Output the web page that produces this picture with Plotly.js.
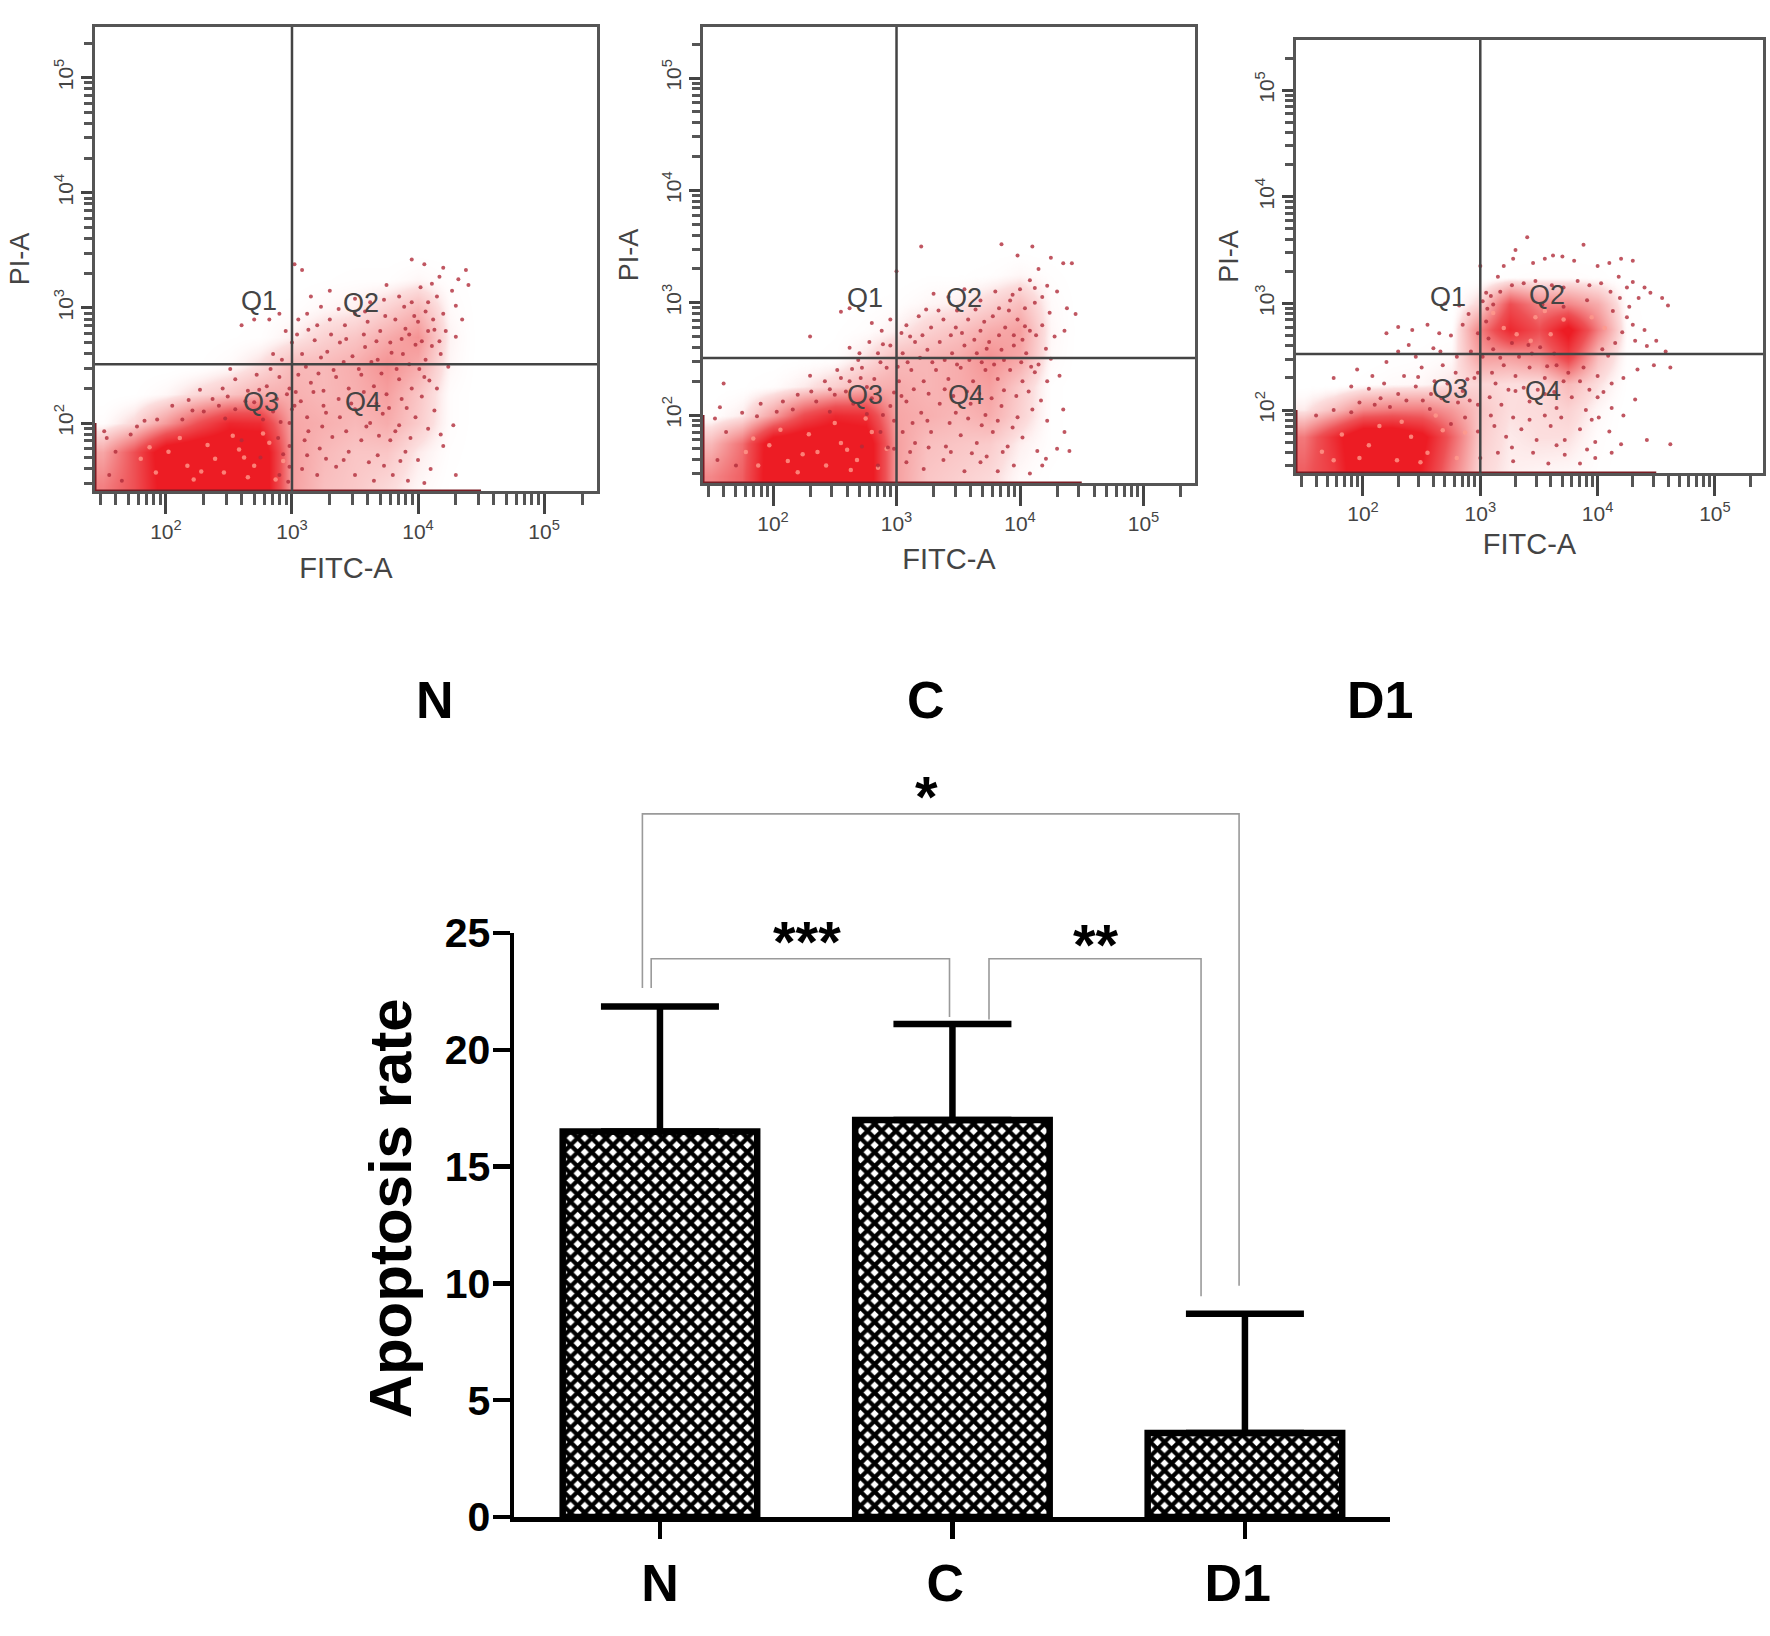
<!DOCTYPE html>
<html><head><meta charset="utf-8">
<script src="https://cdn.plot.ly/plotly-3.0.1.min.js"></script>
<style>html,body{margin:0;padding:0;background:#fff}</style></head>
<body><div id="chart" style="width:1770px;height:1636px"></div>
<script>
// ---------- bar chart values ----------
const groups = ['N','C','D1'];
const groupPos = [0,1,2];
const apoptosisRate = [16.5,17.0,3.6];
const apoptosisErr = [5.35,4.1,5.1];
const bracketAllX = [-0.06,-0.06,1.98,1.98];
const bracketAllY = [22.65,30.1,30.1,9.9];
const bracketNCX = [-0.03,-0.03,0.99,0.99];
const bracketNCY = [22.65,23.9,23.9,21.4];
const bracketCDX = [1.125,1.125,1.85,1.85];
const bracketCDY = [21.3,23.9,23.9,9.45];

// ---------- flow panels: density (log10 FITC columns, log10 PI rows) ----------
const gridX = [1.5,1.75,2,2.25,2.5,2.75,3,3.25,3.5,3.75,4,4.25,4.5];
const gridY = [1.45,1.75,2,2.25,2.5,2.75,3,3.25,3.5];
const densityN = [
 [.4,.55,.9,1,1,1,.3,.2,.17,.12,.05,.01,0],
 [.28,.55,.95,1,1,1,.3,.22,.18,.18,.08,.02,0],
 [.03,.12,.32,.55,.75,.72,.28,.25,.22,.26,.16,.03,0],
 [0,.01,.05,.12,.18,.25,.25,.22,.25,.3,.18,.03,0],
 [0,0,0,.01,.04,.11,.22,.22,.26,.35,.26,.05,0],
 [0,0,0,0,.01,.02,.07,.14,.18,.26,.34,.06,0],
 [0,0,0,0,0,.01,.02,.05,.07,.14,.22,.04,0],
 [0,0,0,0,0,0,0,.01,.02,.02,.05,.02,0],
 [0,0,0,0,0,0,0,0,0,0,0,0,0]];
const densityC = [
 [.38,.5,.95,1,1,.95,.3,.18,.15,.12,.04,.01,0],
 [.22,.45,.95,1,1,.95,.3,.2,.18,.16,.07,.02,0],
 [.02,.08,.3,.58,.74,.7,.28,.25,.22,.26,.14,.02,0],
 [0,.01,.03,.08,.15,.24,.26,.23,.26,.3,.16,.02,0],
 [0,0,0,.01,.02,.1,.21,.23,.26,.35,.27,.04,0],
 [0,0,0,0,.01,.03,.07,.14,.19,.26,.3,.05,0],
 [0,0,0,0,0,.01,.02,.05,.07,.13,.2,.04,0],
 [0,0,0,0,0,0,0,.01,.01,.02,.05,.02,0],
 [0,0,0,0,0,0,0,0,0,0,0,0,0]];
const densityD = [
 [.5,.66,1,1,.78,.42,.13,.07,.06,.05,.02,0,0],
 [.42,.72,1,1,.86,.5,.16,.08,.1,.1,.03,0,0],
 [.08,.2,.38,.42,.42,.32,.18,.1,.11,.14,.05,0,0],
 [0,0,.02,.04,.05,.09,.13,.1,.1,.22,.1,.01,0],
 [0,0,0,.01,.02,.04,.3,.3,.36,.62,.2,.02,0],
 [0,0,0,0,0,.01,.4,.74,.56,.86,.4,.03,0],
 [0,0,0,0,0,0,.13,.56,.38,.38,.26,.02,0],
 [0,0,0,0,0,0,0,.02,.03,.03,.02,0,0],
 [0,0,0,0,0,0,0,0,0,0,0,0,0]];

// scattered events, [log10 FITC, log10 PI]
const eventsN = [[3.02,3.38],[3.08,3.33],[3.95,3.42],[4.05,3.38],[4.2,3.35],[4.38,3.33],[4.32,3.25],[4.27,3.15],[4.4,3.2],[3.15,3.1],[3.3,3.15],[3.5,3.08],[3.62,3.05],[3.75,3.2],[3.85,3.1],[3.95,3.05],[4.02,3.18],[4.08,3.05],[4.15,3.1],[4.2,2.95],[4.3,3.02],[4.35,2.9],[4.22,2.8],[4.3,2.75],[2.6,2.85],[2.7,2.9],[2.82,2.9],[2.9,2.95],[2.95,2.8],[3.05,2.9],[3.12,2.95],[3.2,2.85],[3.3,2.9],[3.42,2.85],[3.5,2.95],[3.6,2.88],[3.7,2.8],[3.82,2.9],[3.9,2.82],[4,2.88],[4.08,2.8],[4.12,2.9],[2.85,2.6],[2.92,2.55],[3.0,2.7],[3.08,2.6],[3.18,2.72],[3.28,2.62],[3.38,2.7],[3.48,2.58],[3.58,2.66],[3.68,2.55],[3.78,2.7],[3.88,2.6],[3.98,2.68],[4.06,2.55],[4.18,2.6],[2.45,2.3],[2.55,2.38],[2.65,2.28],[2.72,2.42],[2.8,2.32],[2.9,2.4],[2.98,2.3],[3.05,2.42],[3.15,2.35],[3.25,2.28],[3.35,2.4],[3.45,2.3],[3.55,2.42],[3.65,2.32],[3.75,2.25],[3.85,2.38],[3.95,2.3],[4.05,2.4],[4.15,2.3],[2.05,2.15],[2.18,2.2],[2.3,2.1],[2.42,2.15],[2.55,2.12],[2.7,2.18],[2.85,2.1],[3,2.12],[3.12,2.05],[3.25,2.15],[3.38,2.05],[3.5,2.12],[3.62,2.0],[3.72,2.08],[3.85,1.98],[3.98,2.05],[4.08,1.95],[4.18,1.9],[4.28,1.98],[3.1,1.85],[3.22,1.78],[3.32,1.88],[3.45,1.75],[3.55,1.85],[3.68,1.72],[3.78,1.85],[3.9,1.75],[4,1.68],[4.1,1.6],[4.2,1.8],[3.08,1.6],[3.2,1.55],[3.35,1.62],[3.5,1.55],[3.65,1.5],[3.8,1.55],[3.92,1.5],[4.05,1.48],[4.3,1.55],[2.98,2],[2.98,1.8],[2.98,1.62],[3.02,2.15],[2.96,2.25],[2.6,1.85],[2.75,1.7],[2.9,1.55],[1.55,1.55],[1.6,1.75],[1.72,1.9],[1.65,1.5],
 [3.93,2.77],[4.03,2.71],[4.11,2.67],[3.97,2.93],[4.06,2.97],[3.87,2.73],[3.79,2.61],[3.93,2.51],[4.01,2.47],[3.83,2.47],[4.09,2.37],[3.71,2.43],[3.63,2.53],[3.53,2.47],[3.41,2.53],[3.33,2.46],[3.23,2.57],[3.11,2.49],[3.17,2.27],[3.07,2.19],[3.27,2.09],[3.37,2.21],[3.47,2.17],[3.57,2.27],[3.67,2.17],[3.77,2.13],[3.87,2.21],[3.91,2.13],[4.03,2.23],[4.13,2.11],[3.13,1.93],[3.24,1.97],[3.43,1.93],[3.59,1.97],[3.69,1.89],[3.82,1.93],[3.94,1.87],[3.12,1.72],[3.27,1.69],[3.41,1.68],[3.61,1.66],[3.73,1.63],[3.86,1.67],[2.83,2.47],[2.74,2.29],[2.63,2.19],[2.49,2.23],[2.37,2.21],[2.21,2.11],[2.13,2.03],[1.93,2.03],[2.27,2.29],[2.51,2.47],[2.88,2.21],[3.03,2.27],[3.21,2.43],[3.43,2.73],[3.57,2.77],[3.67,2.71],[3.74,2.93],[3.89,3.01],[4.13,2.81],[4.17,2.71],[4.24,2.49],[3.31,2.77],[3.13,2.81],[3.04,2.77],[3.23,3.01],[3.37,2.99],[3.58,2.97],[3.73,3.07],[4.11,3.21],[4.17,3.27],[1.51,1.93],[1.53,1.87],[1.77,1.97],[1.83,2.02],[2.47,2.04],[2.77,2.03],[2.91,2.01],[2.89,1.87],[2.93,1.73],[2.97,1.49]];
const eventsC = [[3.2,3.5],[3.85,3.52],[4.1,3.5],[3.98,3.42],[4.25,3.4],[4.35,3.35],[4.42,3.35],[4.15,3.3],[4.08,3.2],[4.22,3.15],[4.3,3.1],[3.3,3.08],[3.42,3.05],[3.55,3.12],[3.68,3.02],[3.8,3.1],[3.92,3.02],[4,3.12],[4.12,3],[4.18,3.05],[4.38,2.95],[4.45,2.9],[2.55,2.92],[2.62,2.95],[3,3.28],[2.8,2.82],[2.88,2.75],[2.95,2.85],[3.08,2.8],[3.18,2.88],[3.28,2.78],[3.38,2.85],[3.48,2.78],[3.58,2.85],[3.68,2.75],[3.78,2.88],[3.88,2.78],[3.98,2.85],[4.08,2.75],[4.18,2.8],[4.28,2.7],[4.36,2.75],[2.3,2.7],[2.62,2.6],[2.7,2.55],[2.78,2.65],[2.85,2.55],[2.95,2.62],[3.05,2.55],[3.15,2.65],[3.25,2.58],[3.35,2.65],[3.45,2.55],[3.55,2.62],[3.65,2.55],[3.75,2.65],[3.85,2.58],[3.95,2.62],[4.05,2.55],[4.15,2.45],[4.25,2.5],[2.3,2.35],[2.42,2.3],[2.52,2.4],[2.62,2.3],[2.72,2.42],[2.82,2.32],[2.92,2.42],[3.02,2.3],[3.12,2.4],[3.22,2.3],[3.32,2.4],[3.42,2.32],[3.52,2.42],[3.62,2.3],[3.72,2.4],[3.82,2.32],[3.92,2.4],[4.02,2.3],[4.12,2.38],[4.22,2.3],[4.32,2.35],[1.6,2.28],[1.75,2.02],[1.9,2.1],[2.08,2.12],[2.2,2.18],[2.35,2.12],[2.5,2.18],[2.65,2.1],[2.8,2.15],[2.95,2.08],[3.08,2.12],[3.2,2.02],[3.35,2.1],[3.48,2.02],[3.6,2.1],[3.72,2],[3.85,2.08],[3.98,1.98],[4.1,2.05],[4.22,1.95],[4.35,2.05],[4.36,1.85],[3.05,1.85],[3.15,1.75],[3.28,1.85],[3.4,1.72],[3.52,1.82],[3.65,1.75],[3.78,1.85],[3.9,1.72],[4.02,1.8],[4.14,1.68],[4.3,1.7],[4.4,1.68],[3.08,1.58],[3.22,1.52],[3.38,1.6],[3.55,1.5],[3.68,1.58],[3.82,1.5],[3.95,1.55],[4.08,1.48],[4.18,1.55],[2.98,2.2],[2.98,1.95],[2.98,1.7],[1.55,1.6],[1.62,1.85],[1.7,1.55],[2.85,1.55],[2.72,1.72],
 [3.95,2.71],[4.02,2.67],[3.91,2.93],[4.04,2.95],[3.83,2.71],[3.73,2.59],[3.87,2.49],[4.01,2.47],[3.79,2.45],[4.09,2.43],[3.69,2.47],[3.59,2.49],[3.49,2.45],[3.39,2.49],[3.29,2.47],[3.19,2.51],[3.09,2.47],[3.14,2.23],[3.04,2.17],[3.26,2.19],[3.39,2.23],[3.46,2.17],[3.57,2.21],[3.67,2.19],[3.77,2.15],[3.87,2.22],[3.97,2.17],[4.07,2.21],[4.17,2.13],[3.13,1.93],[3.25,1.95],[3.43,1.93],[3.58,1.97],[3.69,1.91],[3.82,1.95],[3.94,1.89],[3.11,1.67],[3.26,1.71],[3.44,1.67],[3.61,1.66],[3.73,1.63],[3.86,1.67],[2.87,2.47],[2.76,2.25],[2.59,2.21],[2.46,2.23],[2.31,2.21],[2.16,2.05],[2.03,2.03],[1.87,1.99],[2.55,2.33],[2.69,2.49],[3.01,2.43],[3.21,2.71],[3.44,2.71],[3.53,2.73],[3.63,2.67],[3.71,2.83],[3.83,2.95],[3.94,3.07],[4.04,2.79],[4.13,2.71],[4.21,2.59],[3.11,2.7],[3.04,2.73],[3.24,2.94],[3.34,2.93],[3.49,2.93],[3.64,2.94],[4.12,3.13],[4.24,2.91],[1.53,1.97],[1.57,2.07],[2.46,2.03],[2.76,2.01],[2.89,2],[2.87,1.85],[2.93,1.71],[4.21,1.61],[2.71,2.33],[2.64,2.41],[2.89,2.63]];
const eventsD = [[3.4,3.62],[3.62,3.45],[3.88,3.55],[3.3,3.5],[3.55,3.42],[3.7,3.44],[3.8,3.4],[4,3.35],[4.1,3.38],[4.2,3.42],[4.3,3.4],[3.45,3.38],[3.2,3.35],[3.15,3.25],[3.28,3.42],[4.3,3.2],[4.4,3.15],[4.45,3.1],[4.55,3.05],[4.6,2.98],[4.35,3.05],[4.25,3.15],[4.18,3.25],[3.05,3.1],[3.0,3.35],[2.7,3.0],[2.82,2.98],[2.9,2.9],[3.02,3.02],[2.85,2.8],[4.3,2.8],[4.4,2.75],[4.5,2.65],[4.58,2.55],[4.42,2.6],[4.32,2.65],[2.2,2.72],[2.3,2.78],[2.42,2.75],[2.55,2.8],[2.65,2.72],[2.75,2.7],[2.6,2.58],[2.45,2.5],[2.3,2.55],[2.2,2.45],[2.35,2.32],[2.5,2.4],[2.68,2.42],[2.8,2.5],[2.92,2.55],[3.02,2.5],[1.95,2.38],[2.08,2.32],[1.75,2.3],[1.9,2.22],[2.05,2.2],[2.18,2.25],[2.3,2.15],[2.45,2.22],[2.58,2.15],[2.72,2.25],[2.85,2.18],[2.95,2.3],[3.1,2.35],[3.2,2.42],[3.3,2.32],[3.42,2.4],[3.55,2.3],[3.65,2.42],[3.75,2.35],[3.88,2.4],[4,2.32],[4.12,2.25],[4.22,2.3],[4.34,2.38],[4.48,2.42],[4.62,2.4],[3.08,2.12],[3.18,2.05],[3.3,2.18],[3.42,2.08],[3.55,2.15],[3.65,2.02],[3.78,2.12],[3.9,2.0],[4,2.12],[4.12,2.02],[4.22,1.95],[4.32,2.1],[3.12,1.85],[3.22,1.75],[3.35,1.82],[3.48,1.72],[3.6,1.85],[3.72,1.72],[3.85,1.82],[3.98,1.7],[4.1,1.8],[4.2,1.68],[3.15,1.6],[3.28,1.52],[3.45,1.6],[3.58,1.5],[3.72,1.58],[3.85,1.5],[3.98,1.55],[4.12,1.6],[4.42,1.72],[4.62,1.68],[2.98,2.72],[2.98,2.35],[2.98,2.05],[2.98,1.8],[3.0,1.55],[1.6,1.95],[1.75,2.0],[1.9,1.98],[2.1,2.05],
 [3.09,3.07],[3.17,3.11],[3.27,3.17],[3.37,3.19],[3.47,3.21],[3.61,3.17],[3.71,3.15],[3.83,3.21],[3.93,3.17],[4.03,3.19],[4.11,3.11],[4.19,3.05],[3.27,2.63],[3.41,2.61],[3.51,2.59],[3.11,2.57],[3.07,2.67],[3.17,2.49],[3.33,2.5],[3.44,2.53],[3.63,2.53],[4.04,2.57],[4.09,2.51],[4.15,2.63],[4.21,2.73],[4.25,2.87],[4.27,2.97],[4.13,2.93],[3.05,2.83],[3.06,2.95],[3.11,2.99],[3.71,2.97],[3.53,2.99],[3.91,3.03],[3.57,2.41],[3.71,2.27],[3.85,2.27],[3.93,2.19],[4.05,2.17],[3.13,2.25],[3.24,2.19],[3.37,2.21],[3.49,2.19],[3.63,2.17],[2.15,2.11],[2.37,2.09],[2.51,2.09],[2.67,2.11],[2.81,2.07],[2.91,2.09],[2.87,1.93],[1.97,2.07],[2.23,2.03],[2.57,2.01],[2.75,1.87],[3.09,1.95],[3.28,1.93],[3.42,1.91],[3.55,1.95],[3.69,1.93],[3.95,1.91],[4.01,1.93],[3.27,1.65],[3.65,1.67],[3.91,1.63],[2.47,2.31],[2.61,2.27],[2.79,2.35],[2.89,2.29],[2.66,2.55],[2.39,2.61]];

// light flecks showing through the dense parts, [log10 FITC, log10 PI]
const flecksN = [[2.02,1.75],[2.17,1.63],[2.33,1.81],[2.46,1.57],[2.58,1.77],[2.7,1.63],[2.82,1.83],[1.92,1.57],[2.11,1.87],[2.39,1.69],[2.53,1.89],[2.65,1.53],[2.87,1.51],[2.77,1.91],[1.8,1.69],[2.22,1.51],[1.87,1.79],[2.62,1.7],[2.28,1.58],[2.93,1.67]];
const flecksC = [[1.97,1.73],[2.12,1.59],[2.29,1.83],[2.43,1.55],[2.55,1.75],[2.68,1.6],[2.8,1.85],[1.88,1.55],[2.06,1.87],[2.36,1.67],[2.5,1.93],[2.63,1.51],[2.85,1.53],[2.75,1.97],[1.78,1.67],[2.2,1.49],[1.84,1.79],[2.6,1.69],[2.24,1.65],[2.92,1.7]];
const flecksD = [[1.65,1.61],[1.82,1.77],[1.97,1.55],[2.14,1.85],[2.29,1.53],[2.41,1.75],[2.55,1.6],[2.68,1.81],[1.75,1.53],[2.05,1.67],[2.33,1.89],[2.49,1.51],[2.62,1.95],[2.8,1.55],[2.87,1.79],[3.11,2.91],[3.2,2.77],[3.47,2.87],[3.6,2.71],[3.55,2.93],[3.31,2.71],[3.95,2.87],[4.06,2.77],[3.71,2.85],[3.43,2.65]];

const gateFITC = [3,3,3];
const gatePI = [2.51,2.507,2.525];
const panelRangeX = [[1.437,5.42],[1.433,5.417],[1.429,5.41]];
const panelRangeY = [[1.41,5.44],[1.395,5.454],[1.41,5.47]];
const logMajor = [100,1000,10000,100000];
const logMajorText = ['10<sup>2</sup>','10<sup>3</sup>','10<sup>4</sup>','10<sup>5</sup>'];
const logMinor = [30,40,50,60,70,80,90,200,300,400,500,600,700,800,900,2000,3000,4000,5000,6000,7000,8000,9000,20000,30000,40000,50000,60000,70000,80000,90000,200000];
const quadrants = ['Q1','Q2','Q3','Q4'];

// ---------- layout helpers ----------
const W=1770,H=1636, FS='"Liberation Sans",Arial,sans-serif';
const dx=(a,b)=>[a/W,b/W], dy=(t,b)=>[1-b/H,1-t/H];
const PX=x=>x/W, PY=y=>1-y/H;
const frames=[{l:95,r:597,t:27,b:491,fitc:16,pi:14},{l:703,r:1195,t:27,b:483,fitc:15,pi:13},{l:1296,r:1763,t:40,b:473,fitc:10,pi:6}];
const qPos=[[[259,301],[361,303],[261,402],[363,402]],[[865,298],[964,298],[865,395],[966,395]],[[1448,297],[1547,295],[1450,389],[1543,391]]];
const dens=[densityN,densityC,densityD], evs=[eventsN,eventsC,eventsD], fl=[flecksN,flecksC,flecksD];
const redScale=[[0,'rgba(255,255,255,0)'],[.1,'rgba(252,222,222,1)'],[.3,'rgb(246,160,160)'],[.55,'rgb(238,80,84)'],[.8,'rgb(237,28,36)'],[1,'rgb(237,28,36)']];

const traces=[], layout={width:W,height:H,margin:{l:0,r:0,t:0,b:0},paper_bgcolor:'#fff',plot_bgcolor:'rgba(0,0,0,0)',showlegend:false,annotations:[],font:{family:FS}};
const ten=e=>Math.pow(10,e);

frames.forEach((f,i)=>{
  const n=i+1, xa='x'+n, ya='y'+n;
  traces.push({type:'heatmap',x:gridX.map(ten),y:gridY.map(ten),z:dens[i],xaxis:xa,yaxis:ya,zmin:0,zmax:1,zsmooth:'best',showscale:false,colorscale:redScale,hoverinfo:'skip'});
  traces.push({type:'scatter',mode:'markers',x:fl[i].map(p=>ten(p[0])),y:fl[i].map(p=>ten(p[1])),xaxis:xa,yaxis:ya,marker:{size:4.5,color:'#ff9a8c',opacity:.8},hoverinfo:'skip'});
  traces.push({type:'scatter',mode:'markers',x:evs[i].map(p=>ten(p[0])),y:evs[i].map(p=>ten(p[1])),xaxis:xa,yaxis:ya,marker:{size:4,color:'#b02c3a',opacity:.8},hoverinfo:'skip'});
  const bx=panelRangeX[i], by=panelRangeY[i];
  traces.push({type:'scatter',mode:'lines',x:[ten(bx[0]),ten(4.5)],y:[ten(by[0]),ten(by[0])],xaxis:xa,yaxis:ya,line:{color:'#7a1c24',width:3},cliponaxis:false,hoverinfo:'skip'});
  traces.push({type:'scatter',mode:'lines',x:[ten(bx[0]),ten(bx[0])],y:[ten(by[0]),ten(2)],xaxis:xa,yaxis:ya,line:{color:'#7a1c24',width:3},cliponaxis:false,hoverinfo:'skip'});
  traces.push({type:'scatter',mode:'lines',x:[ten(gateFITC[i]),ten(gateFITC[i])],y:[ten(by[0]),ten(by[1])],xaxis:xa,yaxis:ya,line:{color:'#444',width:2.5},hoverinfo:'skip'});
  traces.push({type:'scatter',mode:'lines',x:[ten(bx[0]),ten(bx[1])],y:[ten(gatePI[i]),ten(gatePI[i])],xaxis:xa,yaxis:ya,line:{color:'#444',width:2.5},hoverinfo:'skip'});
  const tf={size:21,color:'#444',family:FS};
  layout['xaxis'+n]={type:'log',domain:dx(f.l,f.r),range:bx,anchor:ya,showline:true,mirror:true,linecolor:'#555',linewidth:3,showgrid:false,zeroline:false,
    tickmode:'array',tickvals:logMajor,ticktext:logMajorText,ticks:'outside',ticklen:20,tickwidth:3,tickcolor:'#444',tickfont:tf,
    minor:{tickmode:'array',tickvals:logMinor,ticks:'outside',ticklen:11,tickwidth:3,tickcolor:'#555',showgrid:false},
    title:{text:'FITC-A',font:{size:29,color:'#444'},standoff:f.fitc}};
  layout['yaxis'+n]={type:'log',domain:dy(f.t,f.b),range:by,anchor:xa,showline:true,mirror:true,linecolor:'#555',linewidth:3,showgrid:false,zeroline:false,
    tickmode:'array',tickvals:logMajor,ticktext:logMajorText,tickangle:-90,ticks:'outside',ticklen:11,tickwidth:3,tickcolor:'#444',tickfont:tf,
    minor:{tickmode:'array',tickvals:logMinor,ticks:'outside',ticklen:8,tickwidth:3,tickcolor:'#555',showgrid:false},
    title:{text:'PI-A',font:{size:27,color:'#444'},standoff:f.pi}};
  quadrants.forEach((q,k)=>layout.annotations.push({xref:'paper',yref:'paper',x:PX(qPos[i][k][0]),y:PY(qPos[i][k][1]),text:q,showarrow:false,xanchor:'center',yanchor:'middle',font:{size:27,color:'#444'}}));
});

// panel captions
[[435,'N'],[926,'C'],[1380,'D1']].forEach(([x,t])=>layout.annotations.push({xref:'paper',yref:'paper',x:PX(x),y:PY(700),text:'<b>'+t+'</b>',showarrow:false,xanchor:'center',yanchor:'middle',font:{size:52,color:'#000'}}));

// bar chart
traces.push({type:'bar',x:groupPos,y:apoptosisRate,width:.665,xaxis:'x4',yaxis:'y4',
  marker:{color:'#fff',line:{color:'#000',width:6.5},pattern:{shape:'x',size:10,solidity:.66,fgcolor:'#000',fgopacity:1,bgcolor:'#fff',fillmode:'overlay'}},
  error_y:{type:'data',symmetric:false,array:apoptosisErr,arrayminus:[0,0,0],color:'#000',thickness:6.5,width:59},hoverinfo:'skip'});
layout.xaxis4={domain:dx(514,1390),range:[-0.499,2.496],anchor:'y4',showline:true,linecolor:'#000',linewidth:4.5,showgrid:false,zeroline:false,
  tickmode:'array',tickvals:groupPos,ticktext:['<b>N</b>','<b>C</b>&nbsp;','<b>D1</b>&nbsp;'],ticks:'outside',ticklen:17,tickwidth:4.5,tickcolor:'#000',tickfont:{size:52,color:'#000'},ticklabelstandoff:0};
layout.yaxis4={domain:dy(933,1517),range:[0,25],anchor:'x4',showline:true,linecolor:'#000',linewidth:4.5,showgrid:false,zeroline:false,
  tickmode:'array',tickvals:[0,5,10,15,20,25],ticks:'outside',ticklen:17,tickwidth:4.5,tickcolor:'#000',tickfont:{size:41,color:'#000',weight:700},ticklabelstandoff:-6,
  title:{text:'&nbsp;&nbsp;<b>Apoptosis rate</b>',font:{size:60,color:'#000'},standoff:15}};
// significance brackets live on a taller invisible subplot with the same scale as the bars
[[bracketAllX,bracketAllY],[bracketNCX,bracketNCY],[bracketCDX,bracketCDY]].forEach(([x,y])=>traces.push({type:'scatter',mode:'lines',x,y,xaxis:'x5',yaxis:'y5',line:{color:'#9a9a9a',width:1.6},hoverinfo:'skip'}));
layout.xaxis5={domain:dx(514,1390),range:[-0.499,2.496],anchor:'y5',visible:false};
layout.yaxis5={domain:dy(790,1517),range:[0,(1517-790)/(584/25)],anchor:'x5',visible:false};
[[926,796,'*'],[807,941,'***'],[1096,945,'**']].forEach(([x,y,t])=>layout.annotations.push({xref:'paper',yref:'paper',x:PX(x),y:PY(y),text:'<b>'+t+'</b>',showarrow:false,xanchor:'center',yanchor:'middle',font:{size:58,color:'#000'}}));

Plotly.newPlot('chart',traces,layout,{displayModeBar:false,staticPlot:true});
</script></body></html>
